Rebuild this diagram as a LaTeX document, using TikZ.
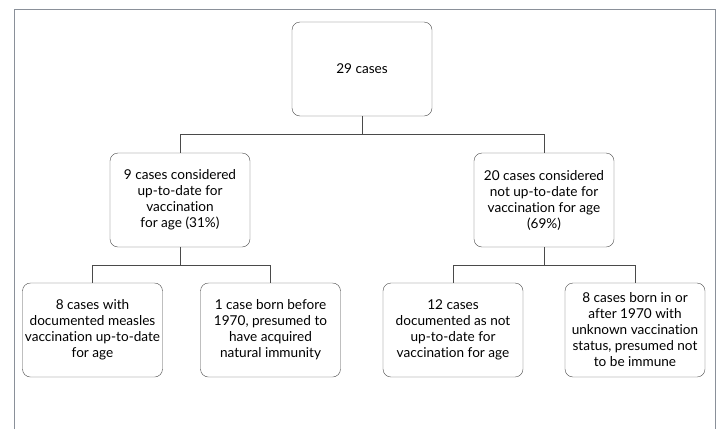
\documentclass[tikz,border=0pt]{standalone}
\usepackage{fontspec}
\setmainfont{Lato}[Ligatures={NoCommon,NoContextual}]
\definecolor{framegray}{HTML}{8A9099}
\definecolor{linegray}{HTML}{4A4A4A}

\begin{document}
\begin{tikzpicture}[x=1pt,y=-1pt]
\tikzstyle{every node}=[font=\fontsize{13.6}{16}\selectfont]
\tikzstyle{casebox}=[draw=linegray, rounded corners=8pt, minimum width=140pt, minimum height=94pt, align=center, inner sep=0pt]
\tikzstyle{link}=[draw=linegray, line width=0.8pt]
\useasboundingbox (0,0) rectangle (720,429);
\draw[framegray, line width=0.8pt] (14,429) -- (14,9) -- (715,9) -- (715,429);

\node[casebox] (all) at (362,69) {29 cases};

\node[casebox] (uptodate) at (180,200) {9 cases considered\\up-to-date for\\vaccination\\for age (31\%)};
\node[casebox] (notuptodate) at (544,200) {20 cases considered\\not up-to-date for\\vaccination for age\\(69\%)};

\node[casebox] (documented) at (92.5,330) {8 cases with\\documented measles\\vaccination up-to-date\\for age};
\node[casebox] (natural) at (270.5,330) {1 case born before\\1970, presumed to\\have acquired\\natural immunity};
\node[casebox] (notdocumented) at (453,330) {12 cases\\documented as not\\up-to-date for\\vaccination for age};
\node[casebox] (unknown) at (635,330) {8 cases born in or\\after 1970 with\\unknown vaccination\\status, presumed not\\to be immune};

\draw[link] (all.south) -- ++(0,18) -| (uptodate.north);
\draw[link] (all.south) -- ++(0,18) -| (notuptodate.north);
\draw[link] (uptodate.south) -- ++(0,18) -| (documented.north);
\draw[link] (uptodate.south) -- ++(0,18) -| (natural.north);
\draw[link] (notuptodate.south) -- ++(0,18) -| (notdocumented.north);
\draw[link] (notuptodate.south) -- ++(0,18) -| (unknown.north);
\end{tikzpicture}
\end{document}
